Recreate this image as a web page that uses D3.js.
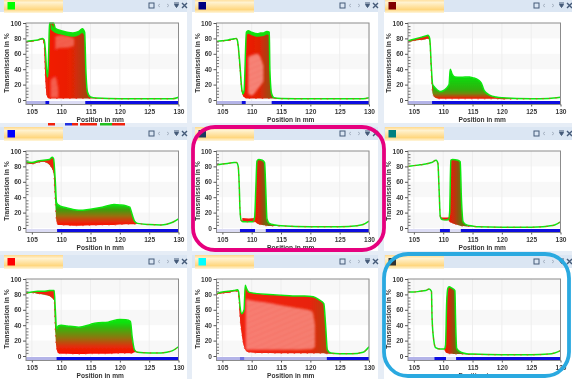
<!DOCTYPE html>
<html>
<head>
<meta charset="utf-8">
<script src="https://cdnjs.cloudflare.com/ajax/libs/d3/7.8.5/d3.min.js"></script>
<style>
    html, body { margin: 0; padding: 0; background: #e6edf6; }
    svg { display: block; }
    text { font-family: "Liberation Sans", Arial, sans-serif; fill: #333; }
</style>
</head>
<body>
<svg width="572" height="379"></svg>
<script>
// tick labels
var xTicks = [105, 110, 115, 120, 125, 130];
var yTicks = [0, 20, 40, 60, 80, 100];
var yMinor = [4, 8, 12, 16, 24, 28, 32, 36, 44, 48, 52, 56, 64, 68, 72, 76, 84, 88, 92, 96];
var bandEdges = [[80, 100], [40, 60], [0, 20]];

// window tab swatches
var swatches = ["#00ff00", "#000080", "#800000", "#0000ff", "#1d3a60", "#008080", "#ff0000", "#00ffff", "#333333"];

// upper and lower envelope of the traces
var p1X =   [104, 105, 106, 106.8, 107.1, 107.3, 107.5, 107.7, 107.9, 108, 108.7, 109, 110, 111, 112, 113, 113.6, 114, 114.2, 114.5, 115, 116, 120, 129, 130];
var p1Top = [76, 77, 78, 80, 78, 65, 40, 30, 70, 100, 100, 93, 90, 88, 87, 89, 92.5, 88, 40, 10, 4, 2.5, 1.5, 1.5, 3.5];
var p1Low = [75, 76, 77.5, 79, 70, 30, 8, 3, 2, 2, 2, 2, 2, 2, 2, 2, 2, 2, 2, 2, 2, 2, 1.5, 1.5, 3.5];

var p2X =   [104, 105, 106, 107, 107.4, 107.6, 108, 108.3, 108.5, 108.7, 109.1, 109.4, 110, 111, 111.5, 112, 112.6, 113, 113.1, 113.4, 113.8, 115, 120, 125, 129, 130];
var p2Top = [76, 77, 78, 79.5, 80, 76, 45, 15, 8, 12, 88, 90, 88, 86, 87, 87, 89, 88, 40, 8, 3, 2, 1.5, 1.5, 1.5, 3];
var p2Low = [75.5, 76.5, 77, 79, 79.5, 74, 40, 12, 6, 4, 2, 2, 2, 2, 2, 2, 2, 2, 2, 2, 2, 1.5, 1.5, 1.5, 1.5, 3];

var p3X =   [104, 105, 106, 107, 107.4, 107.7, 108, 108.2, 108.5, 109, 109.5, 110, 110.5, 111, 111.2, 111.5, 112, 113, 114.5, 115, 116, 116.5, 117, 118, 119, 120, 125, 128, 130];
var p3Top = [77, 79, 81, 83, 84, 80, 40, 20, 17, 13, 11, 12, 15, 20, 40, 34, 30, 29.5, 30, 29, 26, 22, 12, 6, 4, 3, 1.5, 2, 3.5];
var p3Low = [75, 77, 78, 79, 80, 76, 30, 8, 4, 2, 1.5, 1.5, 1.5, 1.5, 1.5, 1.5, 1.5, 1.5, 1.5, 1.5, 1.5, 1.5, 1.5, 1.5, 1.5, 1, 1.5, 2, 3.5];

var p4X =   [104, 105, 106, 107, 108, 108.5, 108.7, 109, 109.2, 109.5, 110, 111, 112, 113, 115, 117, 119, 120, 121, 121.7, 122, 122.5, 123, 125, 127, 128, 129, 130];
var p4Top = [86, 85, 87, 88, 89, 92, 90, 60, 33, 30, 28, 26, 24, 23, 24.5, 27, 30.5, 30, 29, 27, 20, 9, 6, 4.5, 4, 5, 7.5, 12];
var p4Low = [84, 83, 85, 86, 82, 76, 72, 30, 8, 4, 4, 3.5, 3, 3, 3.5, 4, 4, 4.5, 5, 5, 5, 5, 5.5, 4.5, 4, 5, 7.5, 12];

var p5X =   [104, 105, 106, 107, 107.4, 107.7, 107.9, 108, 108.2, 108.6, 109.5, 110.2, 110.5, 110.7, 110.9, 111.2, 111.8, 112.2, 112.4, 112.6, 113, 114, 115, 120, 125, 128, 129, 130];
var p5Top = [82, 83, 84, 85, 85, 80, 50, 25, 10, 8, 8, 8, 14, 50, 87, 89, 88, 85, 50, 12, 6, 4, 3, 1.5, 1.5, 3, 4.5, 9];
var p5Low = [82, 83, 84, 85, 85, 80, 50, 25, 10, 8, 8, 8, 8, 7, 6, 5, 4, 3.5, 3, 3, 2.5, 2.5, 2.5, 1.5, 1.5, 3, 4.5, 9];

var p6X =   [104, 105, 106, 107, 108, 108.8, 109.1, 109.3, 109.5, 109.8, 110.5, 110.9, 111.1, 111.3, 111.6, 112.5, 112.9, 113.1, 113.4, 114, 115, 116, 120, 125, 127, 128, 129, 130];
var p6Top = [80, 81, 82, 83, 85, 88, 84, 50, 15, 11, 10.5, 11, 20, 88, 89, 88, 86, 40, 8, 4, 2.5, 1.5, 1, 1, 1.5, 2.5, 4, 8];
var p6Low = [80, 81, 82, 83, 85, 88, 84, 50, 15, 11, 10.5, 10, 8, 7, 6, 4, 3, 2.5, 2.5, 2, 2, 1.5, 1, 1, 1.5, 2.5, 4, 8];

var p7X =   [104, 105, 106, 107, 108, 108.8, 109, 109.2, 109.5, 110, 111, 113, 115, 116, 118, 120, 121, 121.8, 122.1, 122.5, 123, 125, 127, 128, 129, 130];
var p7Top = [82, 83, 84, 84, 85, 85, 60, 35, 39, 40, 39, 37.5, 41, 43, 44, 47.5, 47, 45, 25, 8, 5, 4, 4, 5, 7, 12];
var p7Low = [81, 82, 81, 80, 78, 72, 30, 10, 3.5, 3, 3, 2.5, 3, 3, 3, 3.5, 3.5, 3.5, 3.5, 5, 5, 4, 4, 5, 7, 12];

var p8X =   [104, 105, 106, 107, 107.6, 107.8, 108, 108.3, 108.7, 108.9, 109.1, 109.5, 111, 113, 115, 117, 119, 120.5, 121.5, 122.3, 122.6, 122.9, 123.5, 125, 127, 129, 130];
var p8Top = [81, 83, 84, 85, 86, 82, 65, 55, 60, 92, 88, 83, 81, 80, 79, 78, 78, 77, 73, 68, 40, 8, 4, 3, 3, 5, 12];
var p8Low = [80, 81.5, 82, 84, 84, 75, 50, 30, 12, 8, 6, 5, 4, 4, 3.5, 3.5, 3.5, 3.5, 3.5, 3.5, 3, 3, 3, 3, 3, 5, 12];

var p9X =   [104, 105, 106, 107, 107.6, 108, 108.1, 108.4, 108.7, 109.5, 110.2, 110.4, 110.6, 110.8, 111, 111.5, 112, 112.1, 112.3, 113, 114, 115, 120, 125, 128, 129, 130];
var p9Top = [83, 83, 84, 85, 87, 84, 50, 20, 11, 9, 9, 14, 70, 88, 90, 88, 85, 50, 10, 5, 3, 2.5, 1.5, 1.5, 2.5, 4, 7];
var p9Low = [83, 83, 84, 85, 87, 84, 50, 20, 11, 9, 9, 5, 4, 3.5, 3, 3, 2.5, 2.5, 2.5, 2.5, 2, 2, 1.5, 1.5, 2.5, 4, 7];

// thin parts of the bundle where single traces show up
var p1GapAX = [109, 110, 111, 112.2];
var p1GapATop = [82, 84, 83, 80];
var p1GapALow = [66, 68, 68, 70];
var p1GapBX = [108.2, 109, 109.5];
var p1GapBTop = [26, 30, 14];
var p1GapBLow = [3, 3, 3];
var p2GapX = [109.4, 110, 111, 112];
var p2GapTop = [56, 58, 60, 45];
var p2GapLow = [8, 6, 14, 24];
var p8GapX = [109, 110, 112, 115, 118, 120.3, 120.8];
var p8GapTop = [74, 72, 70, 66, 62, 58, 40];
var p8GapLow = [8, 8, 8, 8, 8, 9, 12];

// dip band of the narrow peaks
var p5DipX = [108.4, 109.5, 110.5];
var p5DipTop = [13, 12.5, 13];
var p5DipLow = [9, 8.5, 8.5];
var p6DipX = [109.6, 110.3, 111];
var p6DipTop = [14, 13.5, 14];
var p6DipLow = [11, 10.5, 10.5];

// green rim along the top of the dense bundles
var p1RimX = [108.2, 109, 110, 111, 112, 113, 113.6, 114];
var p1RimTop = [100, 93, 90, 88, 87, 89, 92.5, 88];
var p1RimLow = [92, 87, 85, 83, 82, 84, 87, 82];
var p2RimX = [109.1, 109.4, 110, 111, 112, 112.6, 113];
var p2RimTop = [88, 90, 88, 86, 87, 89, 88];
var p2RimLow = [84, 86, 84, 82, 83, 85, 84];

// position strip under each plot: start, end, kind
var stripSegments = [
    [[104, 107.3, "pale"], [107.3, 108, "blue"], [108, 114.1, "light"], [114.1, 130, "blue"]],
    [[104, 108.3, "pale"], [108.3, 109, "blue"], [109, 113.4, "light"], [113.4, 130, "blue"]],
    [[104, 108.1, "pale"], [108.1, 130, "blue"]],
    [[104, 109.3, "light"], [109.3, 130, "blue"]],
    [[104, 108, "light"], [108, 110.6, "blue"], [110.6, 112.4, "light"], [112.4, 130, "blue"]],
    [[104, 109.45, "light"], [109.45, 111.15, "blue"], [111.15, 113, "light"], [113, 130, "blue"]],
    [[104, 109.2, "pale"], [109.2, 130, "blue"]],
    [[104, 108, "pale"], [108, 108.8, "mid"], [108.8, 122.8, "pale"], [122.8, 130, "blue"]],
    [[104, 108.5, "pale"], [108.5, 110.5, "blue"], [110.5, 112.2, "light"], [112.2, 130, "blue"]]
];

var peakStops = [[0, "#f01a04"], [0.4, "#c4300a"], [0.75, "#90500e"], [1, "#6e6c10"]];

var panels = [
    {x: p1X, top: p1Top, low: p1Low, dir: "h", from: 107.5, to: 114.2, shoulder: 107.7,
        gaps: [[p1GapAX, p1GapATop, p1GapALow], [p1GapBX, p1GapBTop, p1GapBLow]], gapOpacity: 0.55,
        rim: [p1RimX, p1RimTop, p1RimLow],
        stops: [[0, "#f21a06"], [0.6, "#ea2004"], [1, "#a8400e"]]},
    {x: p2X, top: p2Top, low: p2Low, dir: "h", from: 108.7, to: 113.1, shoulder: 108.5,
        gaps: [[p2GapX, p2GapTop, p2GapLow]], gapOpacity: 0.85,
        rim: [p2RimX, p2RimTop, p2RimLow],
        stops: [[0, "#f21a06"], [0.6, "#e02206"], [1, "#9c4a0c"]]},
    {x: p3X, top: p3Top, low: p3Low, dir: "v", from: 28, to: 2, shoulder: 108.2,
        stops: [[0, "#10d810"], [0.55, "#30b010"], [0.75, "#6e8a0c"], [1, "#f01a04"]]},
    {x: p4X, top: p4Top, low: p4Low, dir: "v", from: 30, to: 4, shoulder: 109,
        stops: [[0, "#08e008"], [0.25, "#409c10"], [0.55, "#987010"], [0.85, "#e82808"], [1, "#f81204"]]},
    {x: p5X, top: p5Top, low: p5Low, dip: [p5DipX, p5DipTop, p5DipLow], dir: "h", from: 110.7, to: 112.4, stops: peakStops},
    {x: p6X, top: p6Top, low: p6Low, dip: [p6DipX, p6DipTop, p6DipLow], dir: "h", from: 111.1, to: 113, stops: peakStops},
    {x: p7X, top: p7Top, low: p7Low, dir: "v", from: 44, to: 5, shoulder: 109,
        stops: [[0, "#08e408"], [0.2, "#38b410"], [0.5, "#887a10"], [0.8, "#e03008"], [1, "#fa1004"]]},
    {x: p8X, top: p8Top, low: p8Low, dir: "h", from: 109, to: 122.7, shoulder: 108.7,
        gaps: [[p8GapX, p8GapTop, p8GapLow]], gapOpacity: 0.8,
        stops: [[0, "#f42010"], [0.8, "#e82408"], [1, "#b8400c"]]},
    {x: p9X, top: p9Top, low: p9Low, dir: "h", from: 110.5, to: 112.2, stops: peakStops}
];

// bits of the window cut off under the first panel
var cutOffBits = [[48, 55, "#f02010"], [65, 72, "#2030e0"], [72, 78, "#f02010"], [80, 97, "#f02010"], [100, 112, "#20c020"], [112, 125, "#f02010"]];

var stripColor = {pale: "#b4b4e8", light: "#dcdcf4", mid: "#7070e0", blue: "#0808e0"};

// layout
var colLeft = [26, 216.5, 408];
var colWidth = 152.5;
var paneLeft = [0, 192, 384];
var paneRight = [187, 378, 572];
var tabLeft = [4, 195, 385];
var rowTop = [23, 151, 279];
var plotH = 77;   // 100 % down to 0 %
var below = 4.5;  // room for the strip

var svg = d3.select("svg");
var defs = svg.append("defs");

defs.append("filter").attr("id", "soft")
    .append("feGaussianBlur").attr("stdDeviation", 0.35);
defs.append("filter").attr("id", "feather")
    .append("feGaussianBlur").attr("stdDeviation", 1);

var tabGrad = defs.append("linearGradient").attr("id", "tabFill").attr("x1", 0).attr("y1", 0).attr("x2", 0).attr("y2", 1);
tabGrad.append("stop").attr("offset", 0).attr("stop-color", "#ffd98c");
tabGrad.append("stop").attr("offset", 0.25).attr("stop-color", "#fff2cf");
tabGrad.append("stop").attr("offset", 0.75).attr("stop-color", "#ffd780");
tabGrad.append("stop").attr("offset", 1).attr("stop-color", "#fff6dc");

var hatch = defs.append("pattern").attr("id", "traces").attr("patternUnits", "userSpaceOnUse")
    .attr("width", 2).attr("height", 2).attr("patternTransform", "rotate(38)");
hatch.append("rect").attr("width", 2).attr("height", 2).attr("fill", "#ffe4de");
hatch.append("rect").attr("width", 2).attr("height", 1.1).attr("fill", "#f44030");

var chart = svg.append("g").attr("filter", "url(#soft)");

chart.append("g").selectAll("rect").data(cutOffBits).join("rect")
    .attr("x", d => d[0]).attr("width", d => d[1] - d[0])
    .attr("y", 123).attr("height", 2.5).attr("fill", d => d[2]);

panels.forEach(function (d, i) {
    var col = i % 3, row = Math.floor(i / 3);
    var left = colLeft[col], top = rowTop[row];

    var x = d3.scaleLinear().domain([104, 130]).range([left, left + colWidth]);
    var y = d3.scaleLinear().domain([0, 100]).range([top + plotH, top]);
    var bottom = top + plotH + below;

    var pane = chart.append("g");

    // window chrome
    pane.append("rect").attr("x", paneLeft[col]).attr("y", top - 23 < 0 ? 0 : top - 24)
        .attr("width", paneRight[col] - paneLeft[col]).attr("height", 13.5).attr("fill", "#dbe6f3");
    pane.append("rect").attr("x", paneLeft[col]).attr("y", top - 11)
        .attr("width", paneRight[col] - paneLeft[col]).attr("height", 111).attr("fill", "#ffffff");
    pane.append("rect").attr("x", tabLeft[col]).attr("y", top - 24)
        .attr("width", 59).attr("height", 14).attr("fill", "url(#tabFill)");
    pane.append("rect").attr("x", tabLeft[col] + 3.5).attr("y", top - 21)
        .attr("width", 7.5).attr("height", 7.5).attr("fill", swatches[i]);

    var ic = paneRight[col] - 38, iy = top - 17.5;
    var icons = pane.append("g").attr("fill", "none").attr("stroke", "#445a78");
    icons.append("rect").attr("x", ic).attr("y", iy - 2.5).attr("width", 5).attr("height", 5).attr("stroke-width", 1);
    icons.append("path").attr("d", `M${ic + 11},${iy - 1.5}l-2,1.5l2,1.5M${ic + 18},${iy - 1.5}l2,1.5l-2,1.5`).attr("stroke", "#a8b4c4");
    icons.append("path").attr("d", `M${ic + 25},${iy - 2.5}h5M${ic + 25.5},${iy - 1}h4l-2,3z`).attr("fill", "#445a78");
    icons.append("path").attr("d", `M${ic + 33},${iy - 2.5}l5,5M${ic + 38},${iy - 2.5}l-5,5`).attr("stroke-width", 1.4);

    // plot background
    pane.append("rect").attr("x", left).attr("y", top).attr("width", colWidth).attr("height", plotH + below).attr("fill", "#fff");
    pane.append("g").selectAll("rect").data(bandEdges).join("rect")
        .attr("x", left).attr("width", colWidth)
        .attr("y", e => y(e[1])).attr("height", e => y(e[0]) - y(e[1]))
        .attr("fill", "#f8f8f8");
    pane.append("g").selectAll("line").data(xTicks).join("line")
        .attr("x1", x).attr("x2", x).attr("y1", top).attr("y2", bottom)
        .attr("stroke", "#eeeeee");

    // clip to the plot box
    var clipId = "clip" + i;
    defs.append("clipPath").attr("id", clipId).append("rect")
        .attr("x", left).attr("y", top - 1).attr("width", colWidth).attr("height", plotH + below + 1);
    var plot = pane.append("g").attr("clip-path", `url(#${clipId})`);

    // fill between the envelopes
    var gradId = "fill" + i;
    var grad = defs.append("linearGradient").attr("id", gradId).attr("gradientUnits", "userSpaceOnUse");
    if (d.dir === "h") {
        grad.attr("x1", x(d.from)).attr("x2", x(d.to)).attr("y1", 0).attr("y2", 0);
    } else {
        grad.attr("x1", 0).attr("x2", 0).attr("y1", y(d.from)).attr("y2", y(d.to));
    }
    d.stops.forEach(s => grad.append("stop").attr("offset", s[0]).attr("stop-color", s[1]));

    var toRows = (xs, tops, lows) => xs.map((v, k) => ({x: v, top: tops[k], low: lows[k]}));
    var rows = toRows(d.x, d.top, d.low);
    var area = d3.area().curve(d3.curveMonotoneX).x(r => x(r.x)).y0(r => y(r.low)).y1(r => y(r.top));
    plot.append("path").attr("d", area(rows)).attr("fill", `url(#${gradId})`);

    // the plateau before the edge is red under the green top line
    if (d.shoulder) {
        plot.append("path").attr("d", area(rows.filter(r => r.x <= d.shoulder))).attr("fill", "#ee2410");
    }

    (d.gaps || []).forEach(function (g) {
        plot.append("path").attr("d", area(toRows(g[0], g[1], g[2])))
            .attr("fill", "url(#traces)").attr("opacity", d.gapOpacity).attr("filter", "url(#feather)");
    });
    if (d.rim) {
        plot.append("path").attr("d", area(toRows(d.rim[0], d.rim[1], d.rim[2]))).attr("fill", "#14dc10");
    }
    if (d.dip) {
        plot.append("path").attr("d", area(toRows(d.dip[0], d.dip[1], d.dip[2]))).attr("fill", "#f01808");
    }

    var upper = d3.line().curve(d3.curveMonotoneX).x(r => x(r.x)).y(r => y(r.top));
    var lower = d3.line().curve(d3.curveMonotoneX).x(r => x(r.x)).y(r => y(r.low));
    plot.append("path").attr("d", upper(rows)).attr("fill", "none").attr("stroke", "#10e810").attr("stroke-width", 1.5);
    plot.append("path").attr("d", lower(rows)).attr("fill", "none").attr("stroke", "#ee3020").attr("stroke-width", 1)
        .attr("stroke-dasharray", "1.5 5").attr("opacity", 0.8);

    // position strip
    pane.append("g").selectAll("rect").data(stripSegments[i]).join("rect")
        .attr("x", s => x(s[0])).attr("width", s => x(s[1]) - x(s[0]))
        .attr("y", y(0) + 1).attr("height", 3)
        .attr("fill", s => stripColor[s[2]]);

    // frame and axes
    pane.append("rect").attr("x", left).attr("y", top).attr("width", colWidth).attr("height", plotH + below)
        .attr("fill", "none").attr("stroke", "#8c8c8c").attr("stroke-width", 1);

    var yAxis = pane.append("g").attr("transform", `translate(${left},0)`)
        .call(d3.axisLeft(y).tickValues(yTicks).tickSize(3).tickPadding(1.5));
    pane.append("g").attr("transform", `translate(${left},0)`)
        .call(d3.axisRight(y).tickValues(yMinor).tickSize(2.5).tickFormat(""))
        .call(g => g.select(".domain").remove())
        .call(g => g.selectAll("line").attr("stroke", "#777"));
    var xAxis = pane.append("g").attr("transform", `translate(0,${bottom})`)
        .call(d3.axisBottom(x).tickValues(xTicks).tickSize(2).tickPadding(3));

    [yAxis, xAxis].forEach(function (a) {
        a.select(".domain").remove();
        a.selectAll("line").attr("stroke", "#555");
        a.selectAll("text").style("font-size", "6.6px").style("font-weight", "bold").style("fill", "#3a3a3a");
    });

    pane.append("text")
        .attr("x", left + colWidth / 2 - 2)
        .attr("y", top + plotH + 21.5)
        .attr("text-anchor", "middle")
        .style("font-size", "6.6px").style("font-weight", "bold")
        .text("Position in mm");

    pane.append("text")
        .attr("transform", `translate(${left - 17},${top + 40}) rotate(-90)`)
        .attr("text-anchor", "middle")
        .style("font-size", "6.8px").style("font-weight", "bold")
        .text("Transmission in %");
});

// hand drawn style call-outs
svg.append("rect").attr("x", 193).attr("y", 127).attr("width", 191).attr("height", 123).attr("rx", 22)
    .attr("fill", "none").attr("stroke", "#e6007e").attr("stroke-width", 3.8);
svg.append("rect").attr("x", 384).attr("y", 254).attr("width", 185).attr("height", 122).attr("rx", 24)
    .attr("fill", "none").attr("stroke", "#2aa9e0").attr("stroke-width", 3.8);
</script>
</body>
</html>
